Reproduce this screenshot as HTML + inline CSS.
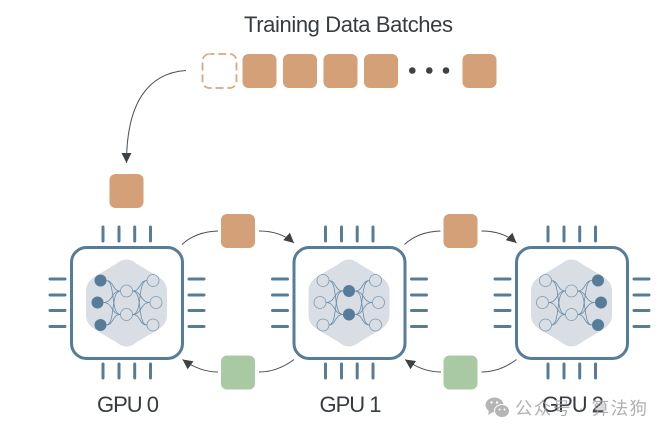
<!DOCTYPE html>
<html>
<head>
<meta charset="utf-8">
<style>
html,body{margin:0;padding:0;background:#fff;width:668px;height:435px;overflow:hidden}
svg{display:block}
text{font-family:"Liberation Sans","Noto Sans CJK SC",sans-serif;fill:#363c42}
</style>
</head>
<body>
<svg width="668" height="435" viewBox="0 0 668 435" xmlns="http://www.w3.org/2000/svg">
<defs>
  <marker id="ah" markerUnits="userSpaceOnUse" markerWidth="12" markerHeight="11" refX="10" refY="5.5" orient="auto">
    <path d="M0 0.5L10 5.5L0 10.5Z" fill="#3d4246"/>
  </marker>
  <g id="chip">
    <rect x="71.5" y="247.5" width="111" height="111" rx="15" fill="#fff" stroke="#567c99" stroke-width="3"/>
    <g stroke="#567c99" stroke-width="3" stroke-linecap="round">
      <path d="M103 227V241M119 227V241M134.7 227V241M150.5 227V241"/>
      <path d="M103 364V378M119 364V378M134.7 364V378M150.5 364V378"/>
      <path d="M50 279H65M50 295H65M50 310.5H65M50 326.5H65"/>
      <path d="M189 279H204M189 295H204M189 310.5H204M189 326.5H204"/>
    </g>
    <path d="M116 264Q126.500 255 137 264L158 276.500Q167 282 167 291V315Q167 324 158 329.500L137 342Q126.500 351 116 342L95 329.500Q86 324 86 315V291Q86 282 95 276.500Z" fill="#d9dee5"/>
    <g fill="none" stroke="#6b8ca6" stroke-width="0.8">
      <path d="M106 280.500C114 280.500 112 291 120.500 291M106 280.500C116 280.500 110 314.500 120.500 314.500"/>
      <path d="M103.500 302.500C113 302.500 111 291 120.500 291M103.500 302.500C113 302.500 111 314.500 120.500 314.500"/>
      <path d="M106 325C116 325 110 291 120.500 291M106 325C114 325 112 314.500 120.500 314.500"/>
      <path d="M147 280.500C139 280.500 141 291 132.500 291M147 280.500C137 280.500 143 314.500 132.500 314.500"/>
      <path d="M150 302.500C140 302.500 142 291 132.500 291M150 302.500C140 302.500 142 314.500 132.500 314.500"/>
      <path d="M147 325C137 325 143 291 132.500 291M147 325C139 325 141 314.500 132.500 314.500"/>
    </g>
  </g>
</defs>

<text x="244" y="32" font-size="22" textLength="209" lengthAdjust="spacing">Training Data Batches</text>

<rect x="202.500" y="54" width="34" height="34" rx="7" fill="none" stroke="#d9a883" stroke-width="1.800" stroke-dasharray="8 3.800" stroke-dashoffset="3"/>
<g fill="#d4a077">
  <rect x="242.500" y="54" width="34" height="34" rx="6"/>
  <rect x="283" y="54" width="34" height="34" rx="6"/>
  <rect x="323.500" y="54" width="34" height="34" rx="6"/>
  <rect x="364" y="54" width="34" height="34" rx="6"/>
  <rect x="462.500" y="54" width="34" height="34" rx="6"/>
  <rect x="109.500" y="174" width="34" height="34" rx="6"/>
  <rect x="221" y="214" width="34" height="34" rx="6"/>
  <rect x="443.500" y="214" width="34" height="34" rx="6"/>
</g>
<g fill="#a8c9a2">
  <rect x="221" y="355.500" width="34" height="34" rx="6"/>
  <rect x="443.500" y="355.500" width="34" height="34" rx="6"/>
</g>
<g fill="#3d4246">
  <circle cx="412.300" cy="70.500" r="3.300"/>
  <circle cx="429.300" cy="70.500" r="3.300"/>
  <circle cx="446" cy="70.500" r="3.300"/>
</g>

<use href="#chip"/>
<use href="#chip" x="222.500"/>
<use href="#chip" x="445"/>

<!-- GPU 0 nodes -->
<g fill="#567c99">
  <circle cx="100.500" cy="280.500" r="6"/><circle cx="97.500" cy="302.500" r="6"/><circle cx="100.500" cy="325" r="6"/>
</g>
<g fill="#d9dee5" stroke="#7b99b0" stroke-width="0.8">
  <circle cx="126.500" cy="291" r="6"/><circle cx="126.500" cy="314.500" r="6"/>
  <circle cx="153" cy="280.500" r="6"/><circle cx="156" cy="302.500" r="6"/><circle cx="153" cy="325" r="6"/>
</g>
<!-- GPU 1 nodes -->
<g fill="#d9dee5" stroke="#7b99b0" stroke-width="0.8">
  <circle cx="323" cy="280.500" r="6"/><circle cx="320" cy="302.500" r="6"/><circle cx="323" cy="325" r="6"/>
  <circle cx="375.500" cy="280.500" r="6"/><circle cx="378.500" cy="302.500" r="6"/><circle cx="375.500" cy="325" r="6"/>
</g>
<g fill="#567c99">
  <circle cx="349" cy="291" r="6"/><circle cx="349" cy="314.500" r="6"/>
</g>
<!-- GPU 2 nodes -->
<g fill="#d9dee5" stroke="#7b99b0" stroke-width="0.8">
  <circle cx="545.500" cy="280.500" r="6"/><circle cx="542.500" cy="302.500" r="6"/><circle cx="545.500" cy="325" r="6"/>
  <circle cx="571.500" cy="291" r="6"/><circle cx="571.500" cy="314.500" r="6"/>
</g>
<g fill="#567c99">
  <circle cx="598" cy="280.500" r="6"/><circle cx="601" cy="302.500" r="6"/><circle cx="598" cy="325" r="6"/>
</g>

<g fill="none" stroke="#4a4f53" stroke-width="1">
  <path d="M186 70.500C148 73 126.500 103 126.500 163" marker-end="url(#ah)"/>
  <path d="M182 244.500C191 236 203 231.500 218 231"/>
  <path d="M259 231C274 231 285 235 294 243" marker-end="url(#ah)"/>
  <path d="M404.500 244.500C413.500 236 425.500 231.500 440.500 231"/>
  <path d="M481.500 231C496.500 231 507.500 235 516.500 243" marker-end="url(#ah)"/>
  <path d="M218 372C204 372 193 367 182.500 359.500" marker-end="url(#ah)"/>
  <path d="M294 359.500C284 367 273 372 259 372"/>
  <path d="M441 372C427 372 416 367 405 359.500" marker-end="url(#ah)"/>
  <path d="M516.500 359.500C506.500 367 495.500 372 481.500 372"/>
</g>

<text x="97" y="412" font-size="22" textLength="62" lengthAdjust="spacing">GPU 0</text>
<text x="319.500" y="412" font-size="22" textLength="62" lengthAdjust="spacing">GPU 1</text>
<text x="542" y="412" font-size="22" textLength="62" lengthAdjust="spacing">GPU 2</text>

<!-- watermark -->
<g fill="#a9a9a9" opacity="0.85">
  <ellipse cx="494.500" cy="405" rx="9" ry="7.500"/>
  <ellipse cx="502" cy="411" rx="7.500" ry="6.500" stroke="#fff" stroke-width="1"/>
  <path d="M489 410L488 415L493 412Z"/>
</g>
<g fill="#fff">
  <circle cx="491.500" cy="402.500" r="1.200"/><circle cx="497" cy="402.500" r="1.200"/>
  <circle cx="499.500" cy="409.500" r="1"/><circle cx="504.500" cy="409.500" r="1"/>
</g>
<text x="515" y="414.500" font-size="17.500" textLength="132" lengthAdjust="spacing" style="fill:#9c9c9c;fill-opacity:.8">公众号 · 算法狗</text>
</svg>
</body>
</html>
